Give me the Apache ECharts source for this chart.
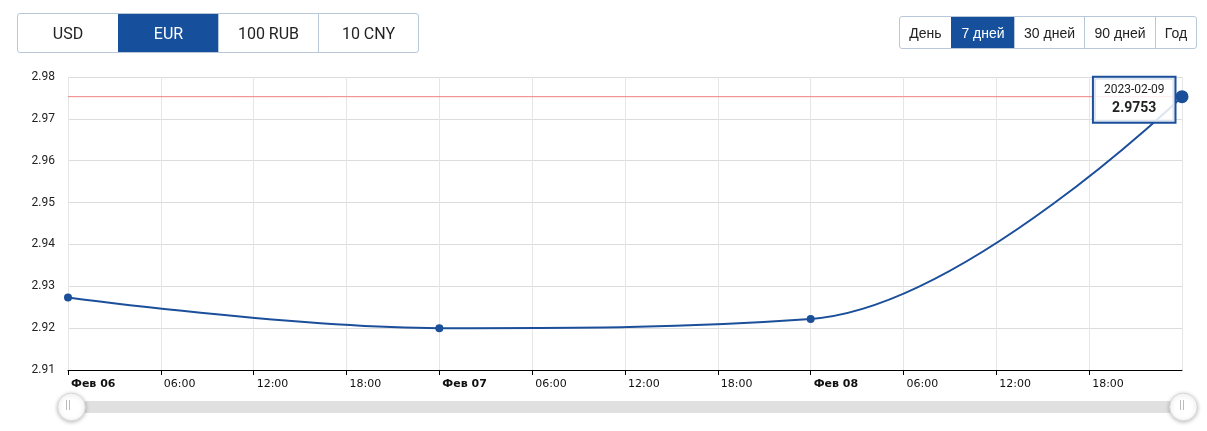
<!DOCTYPE html>
<html><head><meta charset="utf-8">
<script src="https://cdn.jsdelivr.net/npm/echarts@6/dist/echarts.min.js"></script>
<style>
html,body{margin:0;padding:0;background:#fff;}
#chart{position:absolute;left:0;top:0;width:1207px;height:431px;}
.grp{position:absolute;display:flex;border:1px solid #b8c8d8;border-radius:3px;overflow:hidden;z-index:5;background:#fff;}
.grp div{display:flex;align-items:center;justify-content:center;color:#222;box-sizing:border-box;}
.grp div+div{border-left:1px solid #b8c8d8;}
.grp div.on{background:#16509c;color:#fff;border-left-color:#16509c;}
#cur{left:17px;top:13px;height:38px;font:16px Roboto, sans-serif;}
#cur div{width:100px;}
#per{left:899px;top:16px;height:31px;font:14px "Liberation Sans", Arial, sans-serif;}
.grip{position:absolute;top:400px;width:4px;height:10px;border-left:1px solid #bbb;border-right:1px solid #bbb;box-sizing:border-box;z-index:5;pointer-events:none;}
</style></head>
<body>
<div id="chart"></div>
<div class="grp" id="cur"></div>
<div class="grp" id="per"></div>
<div class="grip" style="left:66px"></div>
<div class="grip" style="left:1180px"></div>
<script>
const currencies = ['USD','EUR','100 RUB','10 CNY'];
const activeCurrency = 'EUR';
const periods = ['День','7 дней','30 дней','90 дней','Год'];
const periodWidths = [51,63,70,71,41];
const activePeriod = '7 дней';
const dates = ['2023-02-06','2023-02-07','2023-02-08','2023-02-09'];
const rates = [2.9273, 2.9200, 2.9222, 2.9753];
const monthLabel = 'Фев';
const yMin = 2.91, yMax = 2.98, yStep = 0.01;

const cur = document.getElementById('cur');
currencies.forEach(c=>{const d=document.createElement('div');d.textContent=c;if(c===activeCurrency)d.className='on';cur.appendChild(d);});
const per = document.getElementById('per');
periods.forEach((p,i)=>{const d=document.createElement('div');d.textContent=p;d.style.width=periodWidths[i]+'px';if(p===activePeriod)d.className='on';per.appendChild(d);});

const toTs = d => Date.parse(d+'T00:00:00Z');
const last = rates.length-1;
const lastRate = rates[last];
const xMin = toTs(dates[0]), xMax = toTs(dates[last]);
const seriesData = dates.map((d,i)=>{
  const item = {value:[toTs(d), rates[i]], symbolSize: i===last?13:8};
  if(i===last){
    item.label = {show:true, position:'left', distance:1, offset:[0,3],
      formatter: '{d|'+d+'}\n{v|'+rates[i].toFixed(4)+'}',
      backgroundColor:'rgba(255,255,255,0.85)', borderColor:'#1b4f9a', borderWidth:2,
      padding:[3,10,4,10],
      rich:{d:{fontSize:12,fontFamily:'Roboto',color:'#222',lineHeight:18,align:'center'},
            v:{fontSize:14,fontWeight:'bold',fontFamily:'Roboto',color:'#222',lineHeight:19,align:'center'}}};
  }
  return item;
});
const H6 = 6*3600*1000;
const chart = echarts.init(document.getElementById('chart'));
chart.setOption({
  animation:false,
  grid:{left:68,right:25,top:77,bottom:61},
  xAxis:{type:'value', min: xMin, max: xMax, interval:H6,
    axisLine:{lineStyle:{color:'#000',width:1}},
    axisTick:{show:true,length:5,lineStyle:{color:'#000'}},
    splitLine:{show:true,lineStyle:{color:'#e6e6e6'}},
    axisLabel:{showMaxLabel:false, showMinLabel:true, align:'left', margin:9, padding:[0,0,0,3], hideOverlap:false,
      fontFamily:'DejaVu Sans', fontSize:11, color:'#111',
      formatter:function(v){const dt=new Date(v);const h=dt.getUTCHours();
        if(h===0){return '{b|'+monthLabel+' '+String(dt.getUTCDate()).padStart(2,'0')+'}';}
        return String(h).padStart(2,'0')+':00';},
      rich:{b:{fontFamily:'DejaVu Sans',fontSize:11,fontWeight:'bold',color:'#111'}}}},
  yAxis:{type:'value',min:yMin,max:yMax,interval:yStep,
    axisLine:{show:false},axisTick:{show:false},
    splitLine:{lineStyle:{color:'#dcdcdc'}},
    axisLabel:{formatter:v=>v.toFixed(2),fontFamily:'Roboto',fontSize:12,color:'#222',margin:13}},
  dataZoom:[{type:'slider',xAxisIndex:0,start:0,end:100,filterMode:'none',
    left:68,right:25,bottom:18,height:12,
    backgroundColor:'#e0e0e0',borderColor:'transparent',fillerColor:'rgba(0,0,0,0)',
    dataBackground:{lineStyle:{opacity:0},areaStyle:{opacity:0}},
    selectedDataBackground:{lineStyle:{opacity:0},areaStyle:{opacity:0}},
    showDetail:false,brushSelect:false,moveHandleSize:0,
    handleIcon:'circle',handleSize:'230%',
    handleStyle:{color:'#fff',borderColor:'#d8d8d8',borderWidth:1,shadowBlur:4,shadowColor:'rgba(0,0,0,0.25)',shadowOffsetY:1}}],
  series:[
    {type:'line',data:[[xMin,lastRate],[xMax,lastRate]],symbol:'none',silent:true,z:1,
      lineStyle:{color:'#f08080',width:1},emphasis:{disabled:true}},
    {type:'line',data:seriesData,smooth:0.38,symbol:'circle',z:3,
    lineStyle:{color:'#1b4f9a',width:2},itemStyle:{color:'#1b4f9a'},
    emphasis:{disabled:true}}]
});
</script>
</body></html>
